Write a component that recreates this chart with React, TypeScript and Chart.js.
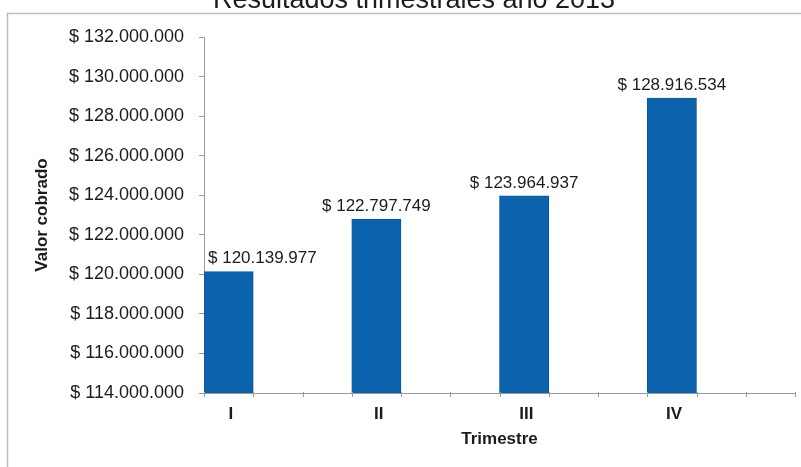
import React, { useEffect, useRef } from "react";
import { Chart, registerables } from "chart.js";

Chart.register(...registerables);

const chartTitle = "Resultados trimestrales año 2013";
const categories = ["I", "II", "III", "IV"];
const values = [120139977, 122797749, 123964937, 128916534];
const yMin = 114000000;
const yMax = 132000000;
const yStep = 2000000;
const xTitle = "Trimestre";
const yTitle = "Valor cobrado";

const FONT = "'Liberation Sans', Arial, sans-serif";
const BAR = "#0b63ae";
const TEXT = "#1c1c1c";
const AXIS = "#9a9a9a";

const fmt = (n: number) =>
  "$ " + Math.round(n).toString().replace(/\B(?=(\d{3})+(?!\d))/g, ".");

const decor = {
  id: "decor",
  beforeDraw(chart: any) {
    const { ctx } = chart;
    ctx.save();
    ctx.strokeStyle = "#bdbdbd";
    ctx.lineWidth = 1.5;
    ctx.beginPath();
    ctx.moveTo(7.5, 467);
    ctx.lineTo(7.5, 13.5);
    ctx.lineTo(801, 13.5);
    ctx.stroke();
    ctx.fillStyle = TEXT;
    ctx.font = `27px ${FONT}`;
    ctx.textAlign = "center";
    ctx.textBaseline = "alphabetic";
    ctx.fillText(chartTitle, 414, 8);
    ctx.restore();
  },
  afterDraw(chart: any) {
    const { ctx } = chart;
    const xs = chart.scales.x;
    const n = categories.length;
    const w = (xs.right - xs.left) / n;
    ctx.save();
    ctx.strokeStyle = AXIS;
    ctx.lineWidth = 1;
    for (let i = 0; i <= n * 3; i++) {
      const x = Math.round(xs.left + (i * w) / 3) + 0.5;
      ctx.beginPath();
      ctx.moveTo(x, xs.top - 1);
      ctx.lineTo(x, xs.top + 4);
      ctx.stroke();
    }
    ctx.restore();
  },
  afterDatasetsDraw(chart: any) {
    const { ctx } = chart;
    const meta = chart.getDatasetMeta(0);
    ctx.save();
    ctx.fillStyle = TEXT;
    ctx.font = `17px ${FONT}`;
    ctx.textBaseline = "middle";
    meta.data.forEach((bar: any, i: number) => {
      const txt = fmt(values[i]);
      if (i === 0) {
        ctx.textAlign = "left";
        ctx.fillText(txt, bar.x - bar.width / 2 + 4, bar.y - 13);
      } else {
        ctx.textAlign = "center";
        ctx.fillText(txt, bar.x, bar.y - 13);
      }
    });
    ctx.restore();
  },
};

export default function App() {
  const ref = useRef<HTMLCanvasElement | null>(null);
  useEffect(() => {
    if (!ref.current) return;
    const chart = new Chart(ref.current, {
      type: "bar",
      data: {
        labels: categories,
        datasets: [
          {
            label: yTitle,
            data: values,
            backgroundColor: BAR,
            borderColor: "#0a5898",
            borderWidth: 1,
          },
          { label: "", data: [] },
          { label: "", data: [] },
        ],
      },
      options: {
        responsive: false,
        animation: false,
        layout: { padding: { top: 37, right: 6, bottom: 17, left: 30 } },
        plugins: {
          legend: { display: false },
          title: { display: false },
          tooltip: { enabled: false },
        },
        datasets: { bar: { categoryPercentage: 1, barPercentage: 1 } },
        scales: {
          x: {
            offset: true,
            grid: { display: false },
            border: { display: true, color: AXIS, width: 1 },
            ticks: {
              color: TEXT,
              font: { family: FONT, size: 17, weight: "bold" },
              padding: 3,
              labelOffset: -47,
            },
            title: {
              display: true,
              text: xTitle,
              color: TEXT,
              font: { family: FONT, size: 17, weight: "bold" },
              padding: { top: 0, bottom: 0 },
            },
            afterFit: (s: any) => {
              s.height = 57;
            },
          },
          y: {
            min: yMin,
            max: yMax,
            grid: {
              drawOnChartArea: false,
              drawTicks: true,
              tickLength: 5,
              color: AXIS,
            },
            border: { display: true, color: AXIS, width: 1 },
            ticks: {
              stepSize: yStep,
              color: TEXT,
              font: { family: FONT, size: 18 },
              padding: 15,
              callback: (v: any) => fmt(Number(v)),
            },
            title: {
              display: true,
              text: yTitle,
              color: TEXT,
              font: { family: FONT, size: 17, weight: "bold" },
              padding: { top: 2, bottom: 0 },
            },
            afterFit: (s: any) => {
              s.width = 174;
            },
          },
        },
      },
      plugins: [decor],
    });
    return () => chart.destroy();
  }, []);
  return (
    <div style={{ position: "absolute", left: 0, top: 0, width: 801, height: 467, background: "#fff" }}>
      <canvas ref={ref} width={801} height={467} />
    </div>
  );
}
